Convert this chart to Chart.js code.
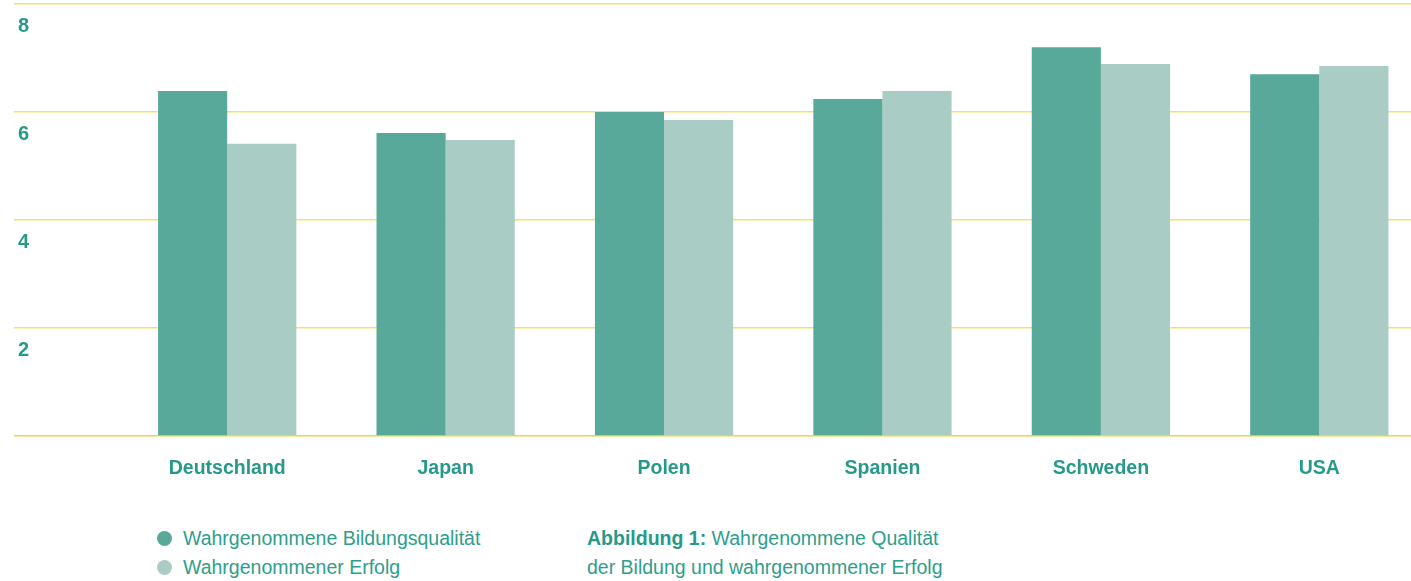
<!DOCTYPE html>
<html lang="de">
<head>
<meta charset="utf-8">
<script src="https://cdn.jsdelivr.net/npm/chart.js@4/dist/chart.umd.min.js"></script>
<style>
  html, body { margin: 0; padding: 0; background: #fff; overflow: hidden; }
  body { width: 1411px; height: 581px; position: relative; font-family: "Liberation Sans", Arial, sans-serif; }
  #wrap { position: absolute; left: 0; top: 0; width: 1430px; height: 500px; }
  .legend { position: absolute; left: 157px; top: 524px; font-size: 19.5px; line-height: 29px; color: #2e9e8c; }
  .legend div { display: flex; align-items: center; }
  .legend span.dot { width: 15px; height: 15px; border-radius: 50%; margin-right: 11px; display: inline-block; }
  .caption { position: absolute; left: 587px; top: 524px; font-size: 19.5px; line-height: 29px; color: #2e9e8c; }
  .caption b { color: #26998a; }
</style>
</head>
<body>
<div id="wrap"><canvas id="chart" width="1430" height="500"></canvas></div>
<div class="legend" id="legend"></div>
<div class="caption"><b>Abbildung 1:</b> Wahrgenommene Qualität<br>der Bildung und wahrgenommener Erfolg</div>
<script>
const countries = ['Deutschland', 'Japan', 'Polen', 'Spanien', 'Schweden', 'USA'];
const bildungsqualitaet = [6.39, 5.61, 6.0, 6.24, 7.2, 6.7];
const erfolg = [5.41, 5.48, 5.85, 6.39, 6.89, 6.85];
const yTicks = [2, 4, 6, 8];

const darkColor = '#59a99a';
const lightColor = '#a9cdc5';
const textColor = '#26998a';

const datasets = [
    { label: 'Wahrgenommene Bildungsqualität', data: bildungsqualitaet, backgroundColor: darkColor },
    { label: 'Wahrgenommener Erfolg', data: erfolg, backgroundColor: lightColor }
];

// html legend below the chart
const legendEl = document.getElementById('legend');
datasets.forEach(ds => {
    const row = document.createElement('div');
    row.innerHTML = '<span class="dot" style="background:' + ds.backgroundColor + '"></span>' + ds.label;
    legendEl.appendChild(row);
});

const ctx = document.getElementById('chart').getContext('2d');
new Chart(ctx, {
    type: 'bar',
    data: {
        labels: countries,
        datasets: datasets.map(ds => Object.assign({}, ds, {
            borderWidth: 0,
            categoryPercentage: 0.633,
            barPercentage: 1.0
        }))
    },
    options: {
        responsive: false,
        animation: false,
        devicePixelRatio: 1,
        layout: { padding: { left: 18, right: 1.5, top: 4, bottom: 0 } },
        plugins: {
            legend: { display: false },
            tooltip: { enabled: false }
        },
        scales: {
            x: {
                afterFit: (scale) => { scale.height = 64; },
                grid: { display: false },
                border: { display: false },
                ticks: {
                    color: textColor,
                    padding: 13,
                    maxRotation: 0,
                    autoSkip: false,
                    font: { family: 'Liberation Sans', size: 19.5, weight: 'bold' }
                }
            },
            y: {
                min: 0,
                max: 8,
                afterBuildTicks: (scale) => {
                    scale.ticks = [0].concat(yTicks).map(v => ({ value: v }));
                },
                afterFit: (scale) => {
                    scale.width = 100;
                    scale.paddingTop = 0;
                    scale.paddingBottom = 0;
                },
                grid: {
                    color: (c) => c.tick && c.tick.value === 0 ? '#f4d43a' : '#f7df6e',
                    lineWidth: 1.6,
                    drawTicks: true,
                    tickLength: 104
                },
                border: { display: false },
                ticks: {
                    crossAlign: 'far',
                    labelOffset: 22,
                    color: textColor,
                    font: { family: 'Liberation Sans', size: 20, weight: 'bold' },
                    callback: (v) => v === 0 ? '' : v
                }
            }
        }
    }
});
</script>
</body>
</html>
